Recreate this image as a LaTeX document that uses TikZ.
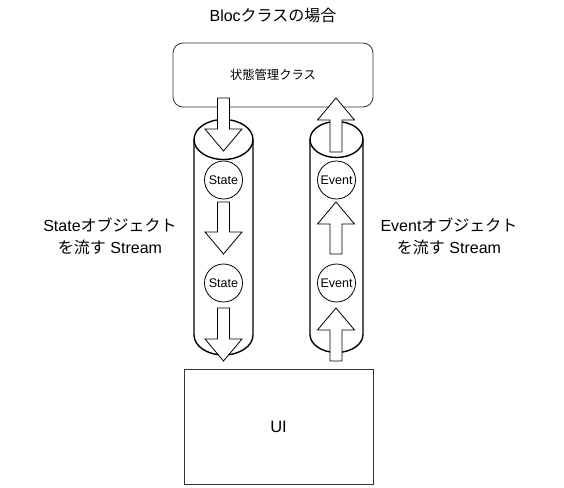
\documentclass[tikz,border=0pt]{standalone}
\usepackage{fontspec}
\setmainfont{Liberation Sans}
\newfontfamily\jp{Noto Sans CJK JP}
\newcommand\dnarrow[3]{% x, top, tip
  \draw[blk] (#1-6,#2) -- (#1+6,#2) -- (#1+6,#3-22) -- (#1+18.5,#3-22) -- (#1,#3)
    -- (#1-18.5,#3-22) -- (#1-6,#3-22) -- cycle;}
\newcommand\uparr[3]{% x, tip, bottom
  \draw[blk] (#1-6,#3) -- (#1+6,#3) -- (#1+6,#2+22) -- (#1+18.5,#2+22) -- (#1,#2)
    -- (#1-18.5,#2+22) -- (#1-6,#2+22) -- cycle;}
\begin{document}
\begin{tikzpicture}[x=1pt,y=-1pt,
  box/.style={draw=black!80,line width=0.8pt,fill=white},
  cyl/.style={draw=black,line width=1.4pt,fill=white},
  blk/.style={draw=black,line width=0.8pt,fill=white,line join=miter},
  circ/.style={circle,draw=black,line width=0.8pt,fill=white,minimum size=38pt,inner sep=0pt,font=\fontsize{12.5}{14}\selectfont},
  lbl/.style={align=center,font=\fontsize{16}{22}\selectfont}]
\useasboundingbox (0,0) rectangle (564,487);
% title
\node (title) at (273,15) {\fontsize{16}{19}\selectfont Bloc{\jp クラスの場合}};
% top box
\node[box,rounded corners=10pt,minimum width=200pt,minimum height=64pt] (mgr) at (273,75)
  {\jp\fontsize{12.3}{14}\selectfont 状態管理クラス};
% left cylinder
\draw[cyl] (194,139.5) -- (194,335) arc[start angle=180,end angle=360,x radius=29.5pt,y radius=20pt]
  -- (253,139.5);
\draw[cyl] (223.5,139.5) ellipse[x radius=29.5pt,y radius=20pt];
% right cylinder
\draw[cyl] (310,139.5) -- (310,334.5) arc[start angle=180,end angle=360,x radius=26.5pt,y radius=18pt]
  -- (363,139.5);
\draw[cyl] (336.5,139.5) ellipse[x radius=26.5pt,y radius=18pt];
% circles
\node[circ] (s1) at (223.5,180) {State};
\node[circ] (s2) at (223.5,283) {State};
\node[circ] (e1) at (336.5,180) {Event};
\node[circ] (e2) at (336.5,283) {Event};
% block arrows
\dnarrow{223.5}{98}{151}
\dnarrow{223.5}{202}{254}
\dnarrow{223.5}{308}{361}
\uparr{336}{98}{152}
\uparr{336}{202}{254}
\uparr{336}{308}{361}
% side labels
\node[lbl] (sl) at (110,236) {State{\jp オブジェクト}\\{\jp を流す} Stream};
\node[lbl] (el) at (449,236) {Event{\jp オブジェクト}\\{\jp を流す} Stream};
% UI box
\node[box,minimum width=189pt,minimum height=115pt] (ui) at (278.5,426.5) {\fontsize{16.5}{19}\selectfont UI};
\end{tikzpicture}
\end{document}
